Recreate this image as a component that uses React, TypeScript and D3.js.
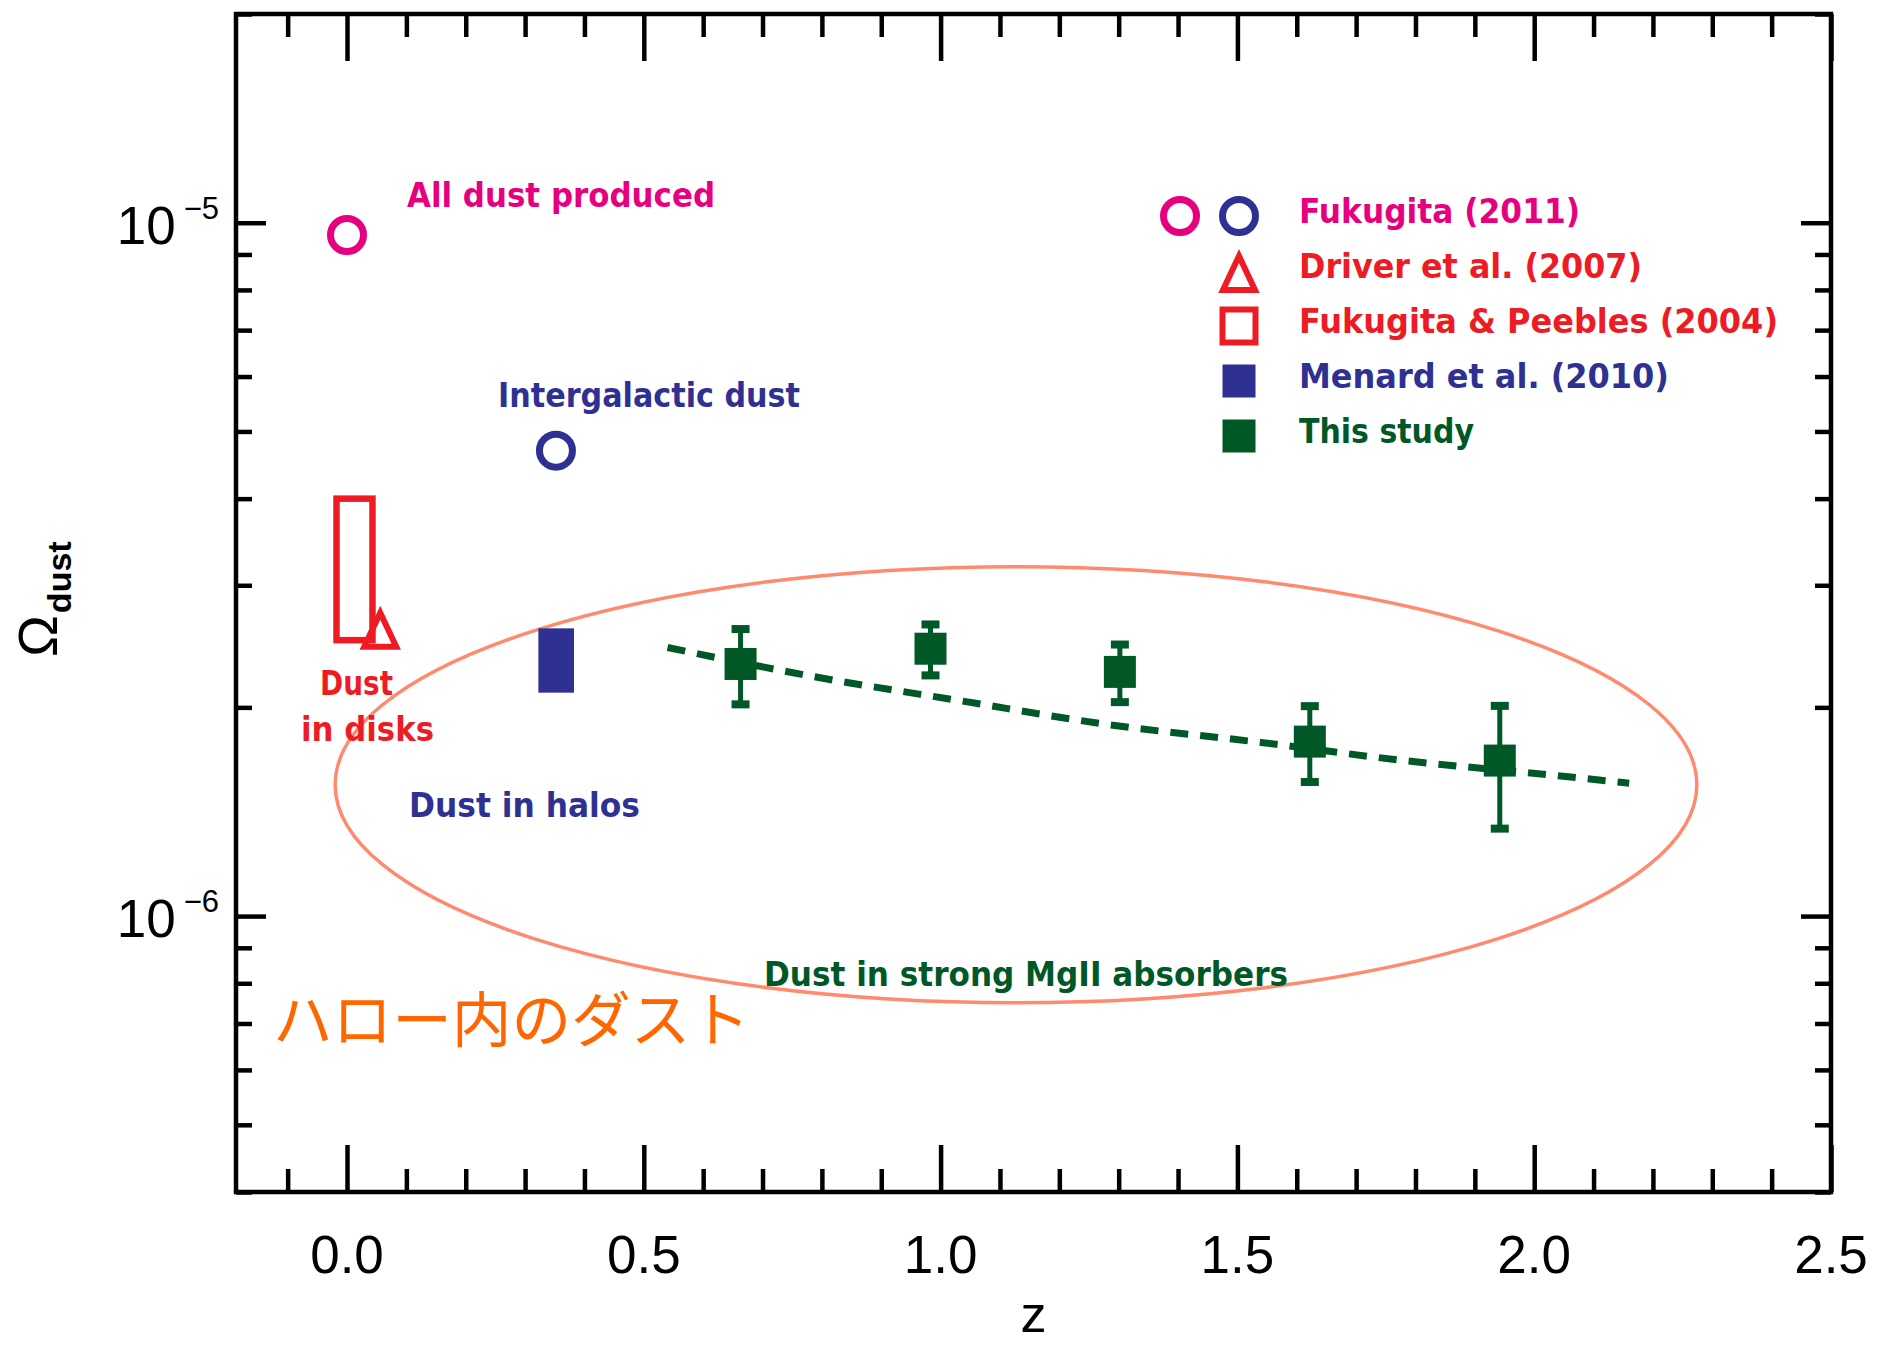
import { useEffect, useRef } from 'react';
import * as d3 from 'd3';

// ---- data ----
const xDomain = [-0.187, 2.5];
const yDomain = [4e-7, 2e-5];

const xMajorTicks = [0, 0.5, 1.0, 1.5, 2.0, 2.5];
const xTickLabels = ['0.0', '0.5', '1.0', '1.5', '2.0', '2.5'];
const yMajorTicks = [1e-6, 1e-5];
const yTickExponents = ['\u22126', '\u22125'];

// Fukugita (2011): all dust produced / intergalactic dust
const zAllDust = [0.0];
const omegaAllDust = [9.6e-6];
const zIntergalactic = [0.352];
const omegaIntergalactic = [4.69e-6];

// Fukugita & Peebles (2004): range box
const fpBoxZ = [-0.0177, 0.0429];
const fpBoxOmega = [2.5e-6, 4.0e-6];

// Driver et al. (2007)
const zDriver = [0.056];
const omegaDriver = [2.58e-6];

// Menard et al. (2010): range box
const menardBoxZ = [0.3224, 0.3824];
const menardBoxOmega = [2.1e-6, 2.6e-6];

// This study
const zStudy = [0.663, 0.983, 1.302, 1.622, 1.942];
const omegaStudy = [2.31e-6, 2.43e-6, 2.25e-6, 1.785e-6, 1.676e-6];
const omegaStudyHi = [2.594e-6, 2.634e-6, 2.464e-6, 2.008e-6, 2.01e-6];
const omegaStudyLo = [2.02e-6, 2.224e-6, 2.035e-6, 1.561e-6, 1.337e-6];

// dashed fit, points
const zFit = [0.54, 0.78, 1.04, 1.28, 1.54, 1.77, 2.02, 2.16];
const omegaFit = [2.44e-6, 2.22e-6, 2.04e-6, 1.89e-6, 1.78e-6, 1.68e-6, 1.6e-6, 1.555e-6];

// ellipse "Dust in halos" extents
const ellipseZ = [-0.02, 2.274];
const ellipseOmega = [7.5e-7, 3.19e-6];

const legendLabels = [
  'Fukugita (2011)',
  'Driver et al. (2007)',
  'Fukugita & Peebles (2004)',
  'Menard et al. (2010)',
  'This study',
];

const PINK = '#e6007e';
const NAVY = '#2e3192';
const RED = '#ed1c24';
const GREEN = '#005826';
const SALMON = '#ff8a6e';
const ORANGE = '#ff6600';

const App = () => {
  const svgRef = useRef<SVGSVGElement>(null);

  useEffect(() => {
    if (!svgRef.current) return;
    const width = 1877;
    const height = 1346;
    const margin = { top: 14, right: 46, bottom: 154, left: 236 };

    const svg = d3.select(svgRef.current);
    svg.selectAll('*').remove();
    svg.attr('width', width).attr('height', height);
    svg.append('rect').attr('width', width).attr('height', height).attr('fill', 'white');

    const x = d3.scaleLinear().domain(xDomain).range([margin.left, width - margin.right]);
    const y = d3.scaleLog().domain(yDomain).range([height - margin.bottom, margin.top]);

    const annoFont = "'DejaVu Sans', sans-serif";
    const axisFont = "'Liberation Sans', Arial, sans-serif";

    // Ellipse
    const ex0 = x(ellipseZ[0]);
    const ex1 = x(ellipseZ[1]);
    const eyT = y(ellipseOmega[1]);
    const eyB = y(ellipseOmega[0]);
    svg.append('ellipse')
      .attr('cx', (ex0 + ex1) / 2)
      .attr('cy', (eyT + eyB) / 2)
      .attr('rx', (ex1 - ex0) / 2)
      .attr('ry', (eyB - eyT) / 2)
      .attr('fill', 'none')
      .attr('stroke', SALMON)
      .attr('stroke-width', 3.5);

    // Dashed fit
    const line = d3.line<number>()
      .x((_, i) => x(zFit[i]))
      .y(d => y(d))
      .curve(d3.curveMonotoneX);
    svg.append('path')
      .attr('d', line(omegaFit))
      .attr('fill', 'none')
      .attr('stroke', GREEN)
      .attr('stroke-width', 7)
      .attr('stroke-dasharray', '18,12');

    // Open circles
    const circle = (cx: number, cy: number, color: string) =>
      svg.append('circle')
        .attr('cx', cx).attr('cy', cy).attr('r', 16.5)
        .attr('fill', 'none').attr('stroke', color).attr('stroke-width', 7);
    zAllDust.forEach((z, i) => circle(x(z), y(omegaAllDust[i]), PINK));
    zIntergalactic.forEach((z, i) => circle(x(z), y(omegaIntergalactic[i]), NAVY));

    // Fukugita & Peebles box
    svg.append('rect')
      .attr('x', x(fpBoxZ[0]))
      .attr('y', y(fpBoxOmega[1]))
      .attr('width', x(fpBoxZ[1]) - x(fpBoxZ[0]))
      .attr('height', y(fpBoxOmega[0]) - y(fpBoxOmega[1]))
      .attr('fill', 'none')
      .attr('stroke', RED)
      .attr('stroke-width', 6.5);

    // Triangle
    const triangle = (cx: number, cy: number) =>
      svg.append('path')
        .attr('d', `M${cx},${cy - 18}L${cx - 16},${cy + 16}L${cx + 16},${cy + 16}Z`)
        .attr('fill', 'none').attr('stroke', RED).attr('stroke-width', 6);
    zDriver.forEach((z, i) => triangle(x(z), y(omegaDriver[i])));

    // Menard box
    svg.append('rect')
      .attr('x', x(menardBoxZ[0]))
      .attr('y', y(menardBoxOmega[1]))
      .attr('width', x(menardBoxZ[1]) - x(menardBoxZ[0]))
      .attr('height', y(menardBoxOmega[0]) - y(menardBoxOmega[1]))
      .attr('fill', NAVY);

    // This study: error bars + squares
    const sq = 32;
    zStudy.forEach((z, i) => {
      const cx = x(z);
      const yHi = y(omegaStudyHi[i]);
      const yLo = y(omegaStudyLo[i]);
      svg.append('line')
        .attr('x1', cx).attr('x2', cx).attr('y1', yHi).attr('y2', yLo)
        .attr('stroke', GREEN).attr('stroke-width', 5);
      [yHi, yLo].forEach(yy => {
        svg.append('rect')
          .attr('x', cx - 9).attr('y', yy - 4).attr('width', 18).attr('height', 8)
          .attr('fill', GREEN);
      });
      svg.append('rect')
        .attr('x', cx - sq / 2).attr('y', y(omegaStudy[i]) - sq / 2)
        .attr('width', sq).attr('height', sq)
        .attr('fill', GREEN);
    });

    // Axes (ticks inward on all four sides)
    const xMinor = d3.range(-1, 25).map(i => i / 10).filter(v => Math.round(v * 10) % 5 !== 0);
    const yAll = y.ticks();
    const yMinor = yAll.filter(v => !yMajorTicks.some(m => Math.abs(m - v) / m < 1e-6));

    const styleAxis = (g: d3.Selection<SVGGElement, unknown, null, undefined>) => {
      g.select('.domain').remove();
      g.selectAll('text').remove();
      g.selectAll('line').attr('stroke', 'black').attr('stroke-width', 4.5);
    };
    const addAxis = (axis: d3.Axis<d3.NumberValue>, tx: number, ty: number) => {
      svg.append('g')
        .attr('transform', `translate(${tx},${ty})`)
        .call(axis)
        .call(styleAxis);
    };
    const bottomY = height - margin.bottom;
    const rightX = width - margin.right;
    addAxis(d3.axisBottom(x).tickValues(xMajorTicks).tickSize(-47).tickSizeOuter(0), 0, bottomY);
    addAxis(d3.axisBottom(x).tickValues(xMinor).tickSize(-23).tickSizeOuter(0), 0, bottomY);
    addAxis(d3.axisTop(x).tickValues(xMajorTicks).tickSize(-47).tickSizeOuter(0), 0, margin.top);
    addAxis(d3.axisTop(x).tickValues(xMinor).tickSize(-23).tickSizeOuter(0), 0, margin.top);
    addAxis(d3.axisLeft(y).tickValues(yMajorTicks).tickSize(-30).tickSizeOuter(0), margin.left, 0);
    addAxis(d3.axisLeft(y).tickValues(yMinor).tickSize(-16).tickSizeOuter(0), margin.left, 0);
    addAxis(d3.axisRight(y).tickValues(yMajorTicks).tickSize(-30).tickSizeOuter(0), rightX, 0);
    addAxis(d3.axisRight(y).tickValues(yMinor).tickSize(-16).tickSizeOuter(0), rightX, 0);

    // Frame
    svg.append('rect')
      .attr('x', margin.left).attr('y', margin.top)
      .attr('width', rightX - margin.left).attr('height', bottomY - margin.top)
      .attr('fill', 'none').attr('stroke', 'black').attr('stroke-width', 4.5);

    // Tick labels
    xMajorTicks.forEach((v, i) => {
      svg.append('text')
        .attr('x', x(v)).attr('y', bottomY + 81)
        .attr('text-anchor', 'middle')
        .style('font-family', axisFont).style('font-size', '53px')
        .text(xTickLabels[i]);
    });
    yMajorTicks.forEach((v, i) => {
      const t = svg.append('text')
        .attr('x', margin.left - 17).attr('y', y(v) + 21)
        .attr('text-anchor', 'end')
        .style('font-family', axisFont).style('font-size', '53px');
      t.append('tspan').text('10');
      t.append('tspan').attr('dy', -25).attr('dx', 8).style('font-size', '31px').text(yTickExponents[i]);
    });

    // Axis titles
    svg.append('text')
      .attr('x', (margin.left + rightX) / 2).attr('y', 1332)
      .attr('text-anchor', 'middle')
      .style('font-family', axisFont).style('font-size', '52px')
      .text('z');
    const yl = svg.append('text')
      .attr('transform', 'translate(57,657) rotate(-90)')
      .style('font-family', axisFont).style('font-size', '56px');
    yl.append('tspan').text('\u03a9');
    yl.append('tspan').attr('dy', 14).attr('dx', 2).style('font-size', '34px').style('font-weight', 'bold').text('dust');

    // Annotations
    const anno = (txt: string, tx: number, ty: number, len: number, color: string, size = 34) =>
      svg.append('text')
        .attr('x', tx).attr('y', ty)
        .attr('textLength', len).attr('lengthAdjust', 'spacingAndGlyphs')
        .attr('fill', color)
        .style('font-family', annoFont).style('font-weight', 'bold').style('font-size', `${size}px`)
        .text(txt);
    anno('All dust produced', 407, 207, 308, PINK);
    anno('Intergalactic dust', 498, 407, 302, NAVY);
    anno('Dust', 320, 695, 73, RED);
    anno('in disks', 301, 741, 133, RED);
    anno('Dust in halos', 409, 817, 231, NAVY);
    anno('Dust in strong MgII absorbers', 764, 986, 524, GREEN);

    svg.append('text')
      .attr('x', 273).attr('y', 1042)
      .attr('textLength', 477).attr('lengthAdjust', 'spacingAndGlyphs')
      .attr('fill', ORANGE)
      .style('font-family', "'Noto Sans CJK JP', sans-serif").style('font-size', '60px')
      .text('ハロー内のダスト');

    // Legend
    const legX = 1239;
    const legTextX = 1299;
    const legY0 = 223;
    const legStep = 55;
    const legLens = [281, 343, 479, 370, 175];
    const legColors = [PINK, RED, RED, NAVY, GREEN];
    legendLabels.forEach((lab, i) => {
      const by = legY0 + i * legStep;
      const my = by - 7;
      if (i === 0) {
        circle(legX - 59, my, PINK);
        circle(legX, my, NAVY);
      } else if (i === 1) {
        triangle(legX, my + 3);
      } else if (i === 2) {
        svg.append('rect')
          .attr('x', legX - 16.5).attr('y', my - 16.5).attr('width', 33).attr('height', 33)
          .attr('fill', 'none').attr('stroke', RED).attr('stroke-width', 6);
      } else {
        svg.append('rect')
          .attr('x', legX - 16.5).attr('y', my - 16.5).attr('width', 33).attr('height', 33)
          .attr('fill', i === 3 ? NAVY : GREEN);
      }
      anno(lab, legTextX, by, legLens[i], legColors[i], 33);
    });
  }, []);

  return (
    <div style={{ position: 'absolute', left: 0, top: 0 }}>
      <svg ref={svgRef} />
    </div>
  );
};

export default App;
